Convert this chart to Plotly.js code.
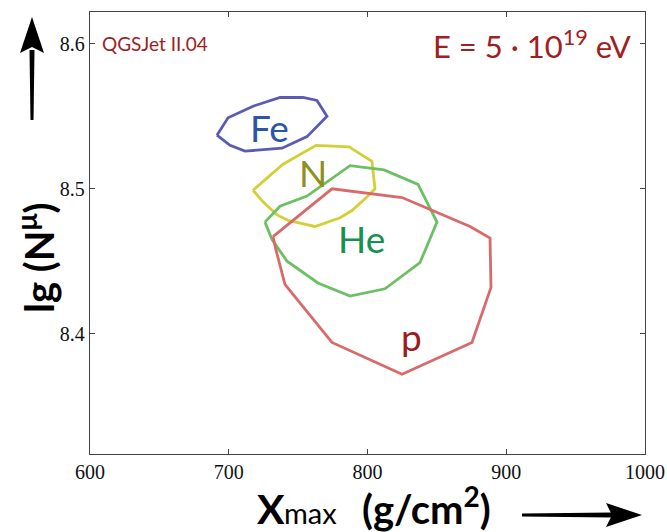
<!DOCTYPE html>
<html>
<head>
<meta charset="utf-8">
<script src="https://cdn.plot.ly/plotly-3.0.1.min.js"></script>
<style>html,body{margin:0;padding:0;background:#fff;}#chart{width:667px;height:532px;}</style>
</head>
<body>
<div id="chart"></div>
<script>
// Contour vertices (Xmax in g/cm^2, lg(N_mu))
const feX = [691.5, 699.5, 717.5, 737.0, 753.5, 763.6, 770.8, 763.6, 756.4, 738.4, 711.7, 700.9];
const feY = [8.537, 8.549, 8.557, 8.563, 8.563, 8.561, 8.550, 8.543, 8.536, 8.528, 8.526, 8.530];
const nX  = [717.5, 739.1, 762.9, 786.7, 803.2, 805.4, 800.4, 788.8, 780.2, 762.2, 743.4, 734.8, 724.7];
const nY  = [8.499, 8.517, 8.530, 8.529, 8.519, 8.500, 8.495, 8.485, 8.480, 8.474, 8.478, 8.482, 8.491];
const heX = [726.1, 736.9, 756.4, 787.4, 811.9, 836.4, 850.1, 837.8, 812.6, 787.4, 764.3, 742.0, 731.2];
const heY = [8.477, 8.488, 8.495, 8.516, 8.513, 8.503, 8.477, 8.449, 8.431, 8.426, 8.435, 8.450, 8.465];
const pX  = [731.9, 774.4, 824.9, 873.9, 888.3, 889.0, 875.3, 824.9, 774.4, 740.5, 734.0];
const pY  = [8.467, 8.500, 8.494, 8.474, 8.466, 8.432, 8.394, 8.372, 8.394, 8.434, 8.458];

const labels = ["Fe", "N", "He", "p"];
const labelX = [729.7, 761.0, 796.0, 832.0];
const labelY = [8.542, 8.511, 8.466, 8.398];

const xTicks = [600, 700, 800, 900, 1000];
const yTicks = [8.4, 8.5, 8.6];

const lineColors  = ["#5b5bb5", "#d2d035", "#6cbf62", "#d86a6a"];
const labelColors = ["#2c55a5", "#8f8f1c", "#16914f", "#9c1c1c"];

function closed(a){ return a.concat([a[0]]); }
const series = [[feX, feY], [nX, nY], [heX, heY], [pX, pY]];
const traces = series.map((s, i) => ({
  x: closed(s[0]), y: closed(s[1]), type: 'scatter', mode: 'lines',
  line: {color: lineColors[i], width: 2.8}, hoverinfo: 'skip', showlegend: false
}));

// pixel -> paper helpers for decorations (plot area 90..645 x 12..454)
const PX = x => (x - 90) / 555;
const PY = y => (454 - y) / 442;

const sans = 'Lato, "Open Sans", sans-serif';
const annotations = labels.map((t, i) => ({
  x: labelX[i], y: labelY[i], xref: 'x', yref: 'y', text: t, showarrow: false,
  font: {family: sans, size: 37, color: labelColors[i]}
}));
annotations.push(
  {xref: 'paper', yref: 'paper', x: PX(100), y: PY(44), xanchor: 'left', yanchor: 'middle',
   text: 'QGSJet II.04', showarrow: false, font: {family: sans, size: 19, color: '#a0201f'}},
  {xref: 'paper', yref: 'paper', x: PX(633), y: PY(45), xanchor: 'right', yanchor: 'middle',
   text: 'E = 5 · 10<sup>19</sup> eV', showarrow: false, font: {family: sans, size: 31, color: '#a0201f'}},
  // x-axis title pieces: "X", subscript "max", "(g/cm²)"
  {xref: 'paper', yref: 'paper', x: PX(287), y: PY(535), xanchor: 'right', yanchor: 'bottom',
   text: '<b>X</b>', showarrow: false, font: {family: sans, size: 41, color: '#000'}},
  {xref: 'paper', yref: 'paper', x: PX(282), y: PY(532), xanchor: 'left', yanchor: 'bottom',
   text: 'max', showarrow: false, font: {family: sans, size: 29, color: '#000'}},
  {xref: 'paper', yref: 'paper', x: PX(360), y: PY(535), xanchor: 'left', yanchor: 'bottom',
   text: '<b>(g/cm<sup>2</sup>)</b>', showarrow: false, font: {family: sans, size: 40, color: '#000'}},
  {xref: 'paper', yref: 'paper', x: PX(36), y: PY(258), xanchor: 'center', yanchor: 'middle', textangle: -90,
   text: '<b>lg (N<sup>μ</sup>)</b>', showarrow: false, font: {family: sans, size: 40, color: '#000'}}
);

function path(pts){ return 'M ' + pts.map(p => PX(p[0]) + ',' + PY(p[1])).join(' L ') + ' Z'; }
const shapes = [
  // vertical arrow shaft + head
  {type: 'path', xref: 'paper', yref: 'paper', fillcolor: '#000', line: {width: 0},
   path: path([[30.5, 120], [33.5, 120], [34.5, 50], [29.5, 50]])},
  {type: 'path', xref: 'paper', yref: 'paper', fillcolor: '#000', line: {width: 0},
   path: path([[32, 17], [44, 53], [32, 47], [20, 53]])},
  // horizontal arrow shaft + head
  {type: 'path', xref: 'paper', yref: 'paper', fillcolor: '#000', line: {width: 0},
   path: path([[522, 513.5], [522, 516.5], [612, 517.5], [612, 512.5]])},
  {type: 'path', xref: 'paper', yref: 'paper', fillcolor: '#000', line: {width: 0},
   path: path([[642, 515], [606, 527], [612, 515], [606, 503]])}
];

const axisCommon = {
  showgrid: false, zeroline: false, showline: true, mirror: 'ticks',
  linecolor: '#444', linewidth: 1.2, ticks: 'inside', ticklen: 5, tickcolor: '#444',
  tickfont: {family: '"Liberation Serif", "DejaVu Serif", serif', size: 20, color: '#111'}
};

const layout = {
  width: 667, height: 532,
  margin: {l: 90, r: 22, t: 12, b: 78},
  paper_bgcolor: '#fff', plot_bgcolor: '#fff',
  xaxis: Object.assign({}, axisCommon, {range: [600, 1000], tickvals: xTicks, ticktext: xTicks.map(String)}),
  yaxis: Object.assign({}, axisCommon, {range: [8.317, 8.622], tickvals: yTicks, ticktext: yTicks.map(v => v.toFixed(1))}),
  annotations: annotations,
  shapes: shapes
};

Plotly.newPlot('chart', traces, layout, {staticPlot: true, displayModeBar: false});
</script>
</body>
</html>
